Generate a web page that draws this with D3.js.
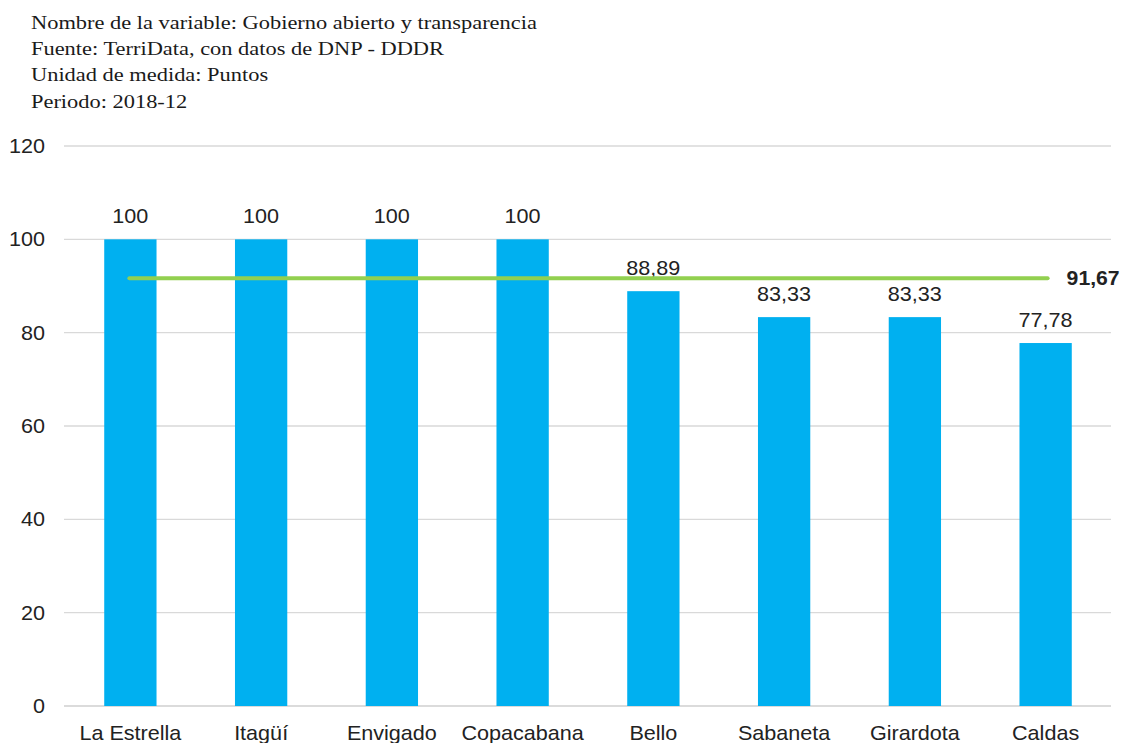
<!DOCTYPE html>
<html>
<head>
<meta charset="utf-8">
<script src="https://cdn.jsdelivr.net/npm/d3@7"></script>
<style>
	body { margin: 0; background: #fff; }
	svg { display: block; }
</style>
</head>
<body>
<svg id="chart" width="1123" height="743"></svg>
<script>
;(function() {
	"use strict";

	var headerLines = [
		"Nombre de la variable: Gobierno abierto y transparencia",
		"Fuente: TerriData, con datos de DNP - DDDR",
		"Unidad de medida: Puntos",
		"Periodo: 2018-12"
	];
	var municipios = ["La Estrella", "Itagüí", "Envigado", "Copacabana", "Bello", "Sabaneta", "Girardota", "Caldas"];
	var puntos = [100, 100, 100, 100, 88.89, 83.33, 83.33, 77.78];
	var promedio = 91.67;
	var yTicks = [0, 20, 40, 60, 80, 100, 120];

	var fmt = function(v) { return String(v).replace(".", ","); };
	var SANS = "'Liberation Sans', Arial, sans-serif";

	// the source image is a bit wider than it is tall, so text gets a horizontal stretch
	function stretch(sel, sx) {
		sel.each(function() {
			var t = d3.select(this),
				x0 = +t.attr("x") || 0;
			t.attr("x", x0 / sx).attr("transform", "scale(" + sx + ",1)");
		});
	}

	var svg = d3.select("#chart"),
		margin = { top: 146, right: 12, bottom: 37, left: 65 },
		width = 1123 - margin.left - margin.right,
		height = 743 - margin.top - margin.bottom;

	// header block, serif like the original
	var header = svg.append("g").selectAll("text")
		.data(headerLines)
		.enter().append("text")
		.attr("x", 31)
		.attr("y", function(d, i) { return 29 + i * 26.2; })
		.attr("font-family", "'Liberation Serif', 'Times New Roman', serif")
		.attr("font-size", 19.5)
		.attr("fill", "#1a1a1a")
		.text(function(d) { return d; });
	stretch(header, 1.15);

	var g = svg.append("g").attr("transform", "translate(" + margin.left + "," + margin.top + ")");

	var x = d3.scaleBand().domain(municipios).range([0, width]).paddingInner(0.6).paddingOuter(0.3);
	var y = d3.scaleLinear().domain([0, 120]).range([height, 0]);

	//gridlines
	g.append("g").selectAll("line")
		.data(yTicks)
		.enter().append("line")
		.attr("x1", -1).attr("x2", width)
		.attr("y1", function(d) { return y(d); })
		.attr("y2", function(d) { return y(d); })
		.attr("stroke", function(d) { return d === 0 ? "#cfcfcf" : "#d9d9d9"; })
		.attr("stroke-width", 1.3);

	var yAxis = g.append("g")
		.call(d3.axisLeft(y).tickValues(yTicks).tickSize(0).tickPadding(20));
	yAxis.select(".domain").remove();
	yAxis.selectAll("text")
		.attr("font-family", SANS)
		.attr("font-size", 20)
		.attr("fill", "#222");
	stretch(yAxis.selectAll("text"), 1.08);

	var xAxis = g.append("g")
		.attr("transform", "translate(0," + height + ")")
		.call(d3.axisBottom(x).tickSize(0).tickPadding(20));
	xAxis.select(".domain").remove();
	xAxis.selectAll("text")
		.attr("font-family", SANS)
		.attr("font-size", 20)
		.attr("fill", "#222");
	stretch(xAxis.selectAll("text"), 1.08);

	var data = municipios.map(function(m, i) { return { name: m, value: puntos[i] }; });

	g.append("g").selectAll("rect")
		.data(data)
		.enter().append("rect")
		.attr("x", function(d) { return x(d.name); })
		.attr("width", x.bandwidth())
		.attr("y", function(d) { return y(d.value); })
		.attr("height", function(d) { return height - y(d.value); })
		.attr("fill", "#00b0f0");

	var labels = g.append("g").selectAll("text")
		.data(data)
		.enter().append("text")
		.attr("x", function(d) { return x(d.name) + x.bandwidth() / 2; })
		.attr("y", function(d) { return y(d.value) - 16; })
		.attr("text-anchor", "middle")
		.attr("font-family", SANS)
		.attr("font-size", 20)
		.attr("fill", "#222")
		.text(function(d) { return fmt(d.value); });
	stretch(labels, 1.08);

	// average line
	var first = municipios[0], last = municipios[municipios.length - 1];
	g.append("line")
		.attr("x1", x(first) + x.bandwidth() / 2 - 1)
		.attr("x2", x(last) + x.bandwidth() / 2 + 2)
		.attr("y1", y(promedio))
		.attr("y2", y(promedio))
		.attr("stroke", "#92d050")
		.attr("stroke-width", 4)
		.attr("stroke-linecap", "round");

	var avgLabel = g.append("text")
		.attr("x", x(last) + x.bandwidth() / 2 + 21)
		.attr("y", y(promedio))
		.attr("dy", "0.35em")
		.attr("font-family", SANS)
		.attr("font-size", 20)
		.attr("font-weight", "bold")
		.attr("fill", "#222")
		.text(fmt(promedio));
	stretch(avgLabel, 1.06);
})();
</script>
</body>
</html>
